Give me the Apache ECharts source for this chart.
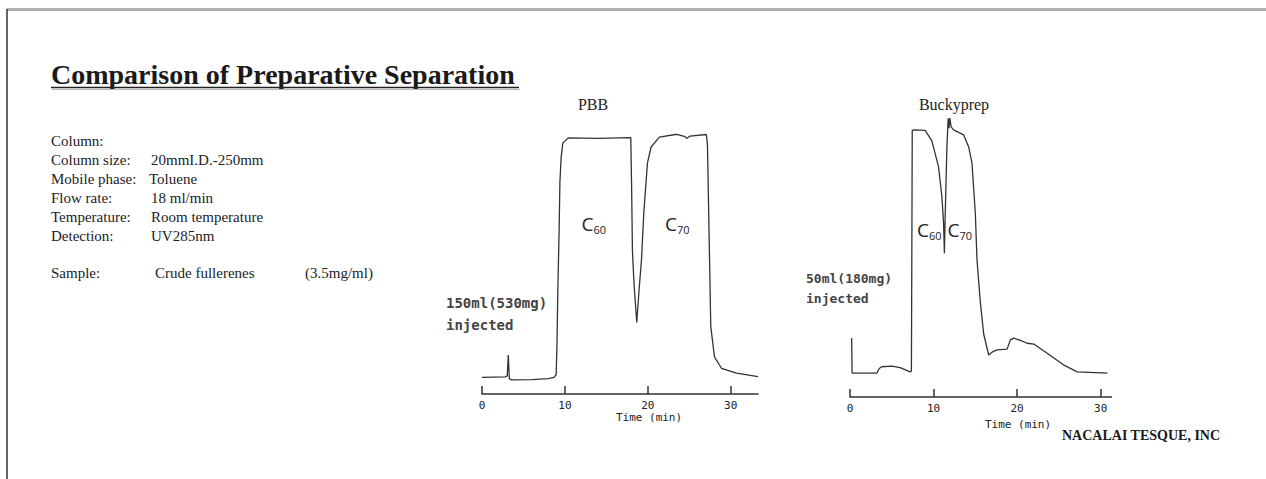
<!DOCTYPE html>
<html>
	<head>
		<meta charset="UTF-8">
		<title>Comparison of Preparative Separation</title>
		<script src="https://cdn.jsdelivr.net/npm/echarts@6/dist/echarts.min.js"></script>
		<style>
			html, body { margin: 0; padding: 0; background: #fff; }
			#main { width: 1266px; height: 479px; }
		</style>
	</head>
	<body>
		<div id="main"></div>
		<script>
			// PBB column chromatogram (time in min, detector signal 0-100)
			var pbbTime = [0, 2.8, 3.05, 3.17, 3.3, 3.6, 6.0, 8.0, 8.7, 8.95, 9.05, 9.15, 9.3, 9.4, 9.55, 9.75, 10.4, 14.0, 17.95,
				18.05, 18.15, 18.35, 18.67, 18.95, 19.24, 19.52, 19.96, 20.4, 21.4, 23.5, 24.5, 24.7, 25.1, 27.07,
				27.2, 27.5, 27.6, 28.05, 28.9, 30.7, 33.3];
			var pbbSignal = [6.4, 6.6, 7.0, 15.0, 5.8, 5.4, 5.5, 5.9, 6.4, 7.5, 20, 40, 62, 81.5, 91, 96.5, 98.5, 98.3, 98.6,
				80, 55, 42, 27.5, 40, 51.5, 69.6, 88.8, 95, 98.8, 99.9, 99, 98.3, 99.2, 99.8,
				96, 44, 26, 14.3, 9.9, 8.0, 6.7];

			// Buckyprep column chromatogram
			var buckyTime = [0.2, 0.25, 3.2, 3.5, 3.8, 5.0, 6.0, 7.2, 7.35, 7.4, 7.45, 7.7, 9.0, 9.8, 10.6, 11.0, 11.2, 11.3,
				11.4, 11.6, 11.75, 11.85, 11.95, 12.1, 12.4, 13.6, 14.2, 14.6, 15.0, 15.2, 15.6, 16.0, 16.6, 17.0,
				17.6, 18.8, 19.2, 19.6, 20.4, 21.2, 22.0, 23.6, 25.6, 27.2, 30.8];
			var buckySignal = [21.1, 8.5, 8.5, 10.2, 10.8, 11.0, 10.5, 9.0, 9.2, 50, 95.2, 95.4, 95.2, 91.5, 82.2, 71.5, 62, 51.3,
				65.5, 89.3, 99.5, 96, 99.6, 96.5, 95.4, 93.6, 89.4, 83.5, 65.7, 49, 33.9, 22.5, 15.0, 16.0,
				16.8, 17.1, 20.4, 21.0, 20.2, 19.2, 18.9, 15.6, 11.4, 9.0, 8.5];

			var tickValues = [0, 10, 20, 30];

			var infoLabels = ['Column:', 'Column size:', 'Mobile phase:', 'Flow rate:', 'Temperature:', 'Detection:'];
			var infoValues = ['', '20mmI.D.-250mm', 'Toluene', '18 ml/min', 'Room temperature', 'UV285nm'];

			function pairs(xs, ys) {
				var out = [];
				for (var i = 0; i < xs.length; i++) {
					out.push([xs[i], ys[i]]);
				}
				return out;
			}

			var chart = echarts.init(document.getElementById('main'), null, { renderer: 'svg' });

			var serif = 'Liberation Serif, Times New Roman, serif';
			var mono = 'DejaVu Sans Mono, monospace';
			var sans = 'Open Sans, Noto Sans, sans-serif';

			function xAxisOf(idx, max) {
				return {
					gridIndex: idx,
					type: 'value',
					min: 0,
					max: max,
					interval: 10,
					axisLine: { show: true, onZero: false, lineStyle: { color: '#333', width: 1.5 } },
					axisTick: { show: true, inside: true, length: 8, customValues: tickValues, lineStyle: { color: '#333', width: 1.5 } },
					axisLabel: { customValues: tickValues, fontFamily: mono, fontSize: 11, color: '#222', margin: 6 },
					splitLine: { show: false }
				};
			}

			function cLabel(x, y, num) {
				return {
					type: 'text', x: x, y: y,
					style: {
						text: '{c|C}{s|' + num + '}',
						verticalAlign: 'middle',
						rich: {
							c: { fontSize: 19, fontFamily: sans, lineHeight: 22, fill: '#222' },
							s: { fontSize: 11, fontFamily: sans, lineHeight: 14, verticalAlign: 'bottom', fill: '#222' }
						}
					}
				};
			}

			var graphics = [
				// frame
				{ type: 'line', shape: { x1: 7, y1: 9, x2: 1266, y2: 9 }, style: { stroke: '#666', lineWidth: 1 } },
				{ type: 'line', shape: { x1: 7, y1: 10.5, x2: 1266, y2: 10.5 }, style: { stroke: '#aaa', lineWidth: 1 } },
				{ type: 'line', shape: { x1: 7, y1: 9, x2: 7, y2: 479 }, style: { stroke: '#333', lineWidth: 1.5 } },
				// heading
				{ type: 'text', x: 51, y: 74, style: { text: 'Comparison of Preparative Separation', fontSize: 28, fontWeight: 'bold', fontFamily: serif, fill: '#1a1a1a', verticalAlign: 'middle' } },
				{ type: 'line', shape: { x1: 51, y1: 87.5, x2: 519, y2: 87.5 }, style: { stroke: '#222', lineWidth: 1.5 } },
				{ type: 'line', shape: { x1: 52, y1: 89.5, x2: 520, y2: 89.5 }, style: { stroke: '#bbb', lineWidth: 1 } },
				// sample line
				{ type: 'text', x: 51, y: 273, style: { text: 'Sample:', fontSize: 15, fontFamily: serif, fill: '#222', verticalAlign: 'middle' } },
				{ type: 'text', x: 155, y: 273, style: { text: 'Crude fullerenes', fontSize: 15, fontFamily: serif, fill: '#222', verticalAlign: 'middle' } },
				{ type: 'text', x: 305, y: 273, style: { text: '(3.5mg/ml)', fontSize: 15, fontFamily: serif, fill: '#222', verticalAlign: 'middle' } },
				// chart titles
				{ type: 'text', x: 593, y: 104, style: { text: 'PBB', fontSize: 16, fontFamily: serif, fill: '#222', align: 'center', verticalAlign: 'middle' } },
				{ type: 'text', x: 954, y: 104, style: { text: 'Buckyprep', fontSize: 16, fontFamily: serif, fill: '#222', align: 'center', verticalAlign: 'middle' } },
				// peak labels
				cLabel(581.5, 224, '60'),
				cLabel(665, 224, '70'),
				cLabel(917, 230, '60'),
				cLabel(947.5, 230, '70'),
				// injection notes
				{ type: 'text', x: 446, y: 303, style: { text: '150ml(530mg)', fontSize: 14, fontWeight: 'bold', fontFamily: mono, fill: '#444', verticalAlign: 'middle' } },
				{ type: 'text', x: 446, y: 325, style: { text: 'injected', fontSize: 14, fontWeight: 'bold', fontFamily: mono, fill: '#444', verticalAlign: 'middle' } },
				{ type: 'text', x: 806, y: 278, style: { text: '50ml(180mg)', fontSize: 13, fontWeight: 'bold', fontFamily: mono, fill: '#444', verticalAlign: 'middle' } },
				{ type: 'text', x: 806, y: 298, style: { text: 'injected', fontSize: 13, fontWeight: 'bold', fontFamily: mono, fill: '#444', verticalAlign: 'middle' } },
				// axis titles
				{ type: 'text', x: 649, y: 417, style: { text: 'Time (min)', fontSize: 11, fontFamily: mono, fill: '#222', align: 'center', verticalAlign: 'middle' } },
				{ type: 'text', x: 1018, y: 424, style: { text: 'Time (min)', fontSize: 11, fontFamily: mono, fill: '#222', align: 'center', verticalAlign: 'middle' } },
				// credit
				{ type: 'text', x: 1062, y: 435, style: { text: 'NACALAI TESQUE, INC', fontSize: 14, fontWeight: 'bold', fontFamily: serif, fill: '#1a1a1a', verticalAlign: 'middle' } }
			];

			// condition table
			for (var i = 0; i < infoLabels.length; i++) {
				var yy = 141 + i * 19;
				graphics.push({ type: 'text', x: 51, y: yy, style: { text: infoLabels[i], fontSize: 15, fontFamily: serif, fill: '#222', verticalAlign: 'middle' } });
				if (infoValues[i]) {
					graphics.push({ type: 'text', x: (i == 2 ? 149 : 151), y: yy, style: { text: infoValues[i], fontSize: 15, fontFamily: serif, fill: '#222', verticalAlign: 'middle' } });
				}
			}

			var option = {
				animation: false,
				backgroundColor: '#fff',
				grid: [
					{ left: 482, top: 134, width: 276, height: 260 },
					{ left: 850, top: 117, width: 261.5, height: 280 }
				],
				xAxis: [xAxisOf(0, 33.3), xAxisOf(1, 31.3)],
				yAxis: [
					{ gridIndex: 0, type: 'value', min: 0, max: 100, show: false },
					{ gridIndex: 1, type: 'value', min: 0, max: 100, show: false }
				],
				series: [{
					name: 'PBB',
					type: 'line',
					xAxisIndex: 0,
					yAxisIndex: 0,
					data: pairs(pbbTime, pbbSignal),
					symbol: 'none',
					lineStyle: { color: '#333', width: 1.3 }
				}, {
					name: 'Buckyprep',
					type: 'line',
					xAxisIndex: 1,
					yAxisIndex: 1,
					data: pairs(buckyTime, buckySignal),
					symbol: 'none',
					lineStyle: { color: '#333', width: 1.3 }
				}],
				graphic: graphics
			};

			chart.setOption(option);
		</script>
	</body>
</html>
